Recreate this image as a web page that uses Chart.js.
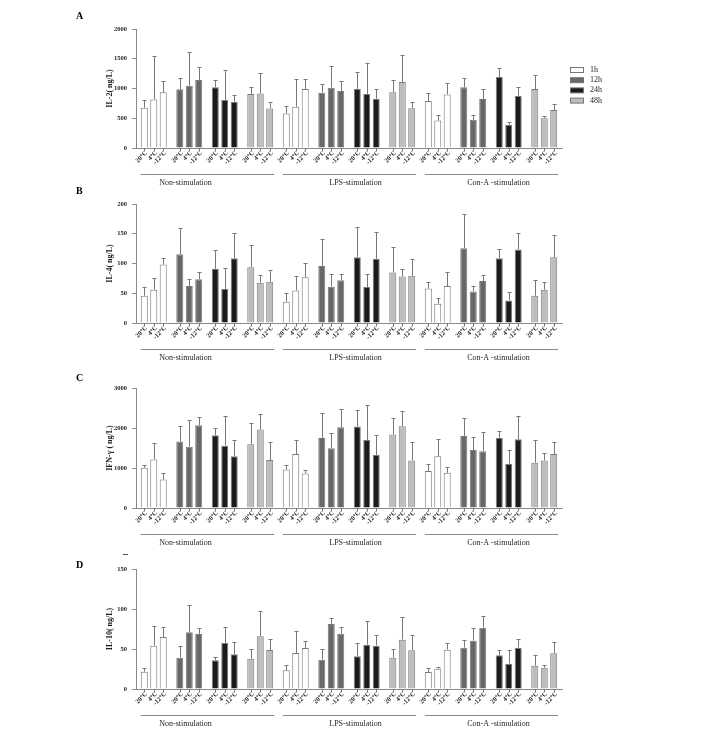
<!DOCTYPE html>
<html>
<head>
<meta charset="utf-8">
<script src="https://cdn.jsdelivr.net/npm/chart.js@4.4.1/dist/chart.umd.min.js"></script>
<style>
  html, body { margin: 0; padding: 0; background: #fff; }
  #wrap { position: relative; width: 708px; height: 731px; overflow: hidden; }
  canvas { position: absolute; left: 0; }
</style>
</head>
<body>
<div id="wrap">
  <canvas id="chartA" width="708" height="186" style="top:0px"></canvas>
  <canvas id="chartB" width="708" height="178" style="top:186px"></canvas>
  <canvas id="chartC" width="708" height="186" style="top:364px"></canvas>
  <canvas id="chartD" width="708" height="187" style="top:544px"></canvas>
</div>
<script>
// categories
const temps = ['20°C', '4°C', '-12°C'];
const timePoints = ['1h', '12h', '24h', '48h'];
const stimulations = ['Non-stimulation', 'LPS-stimulation', 'Con-A -stimulation'];
const timeColors = ['#ffffff', '#686868', '#1b1b1b', '#bdbdbd'];

// values, order: stimulation > time point > temperature (20, 4, -12)
const il2Mean = [676, 817, 935, 986, 1048, 1144, 1020, 806, 777, 907, 918, 665,
                 580, 693, 992, 930, 1014, 958, 997, 907, 828, 935, 1110, 670,
                 789, 462, 901, 1020, 473, 822, 1194, 389, 879, 992, 501, 637];
const il2Sd = [130, 721, 197, 186, 563, 225, 124, 501, 113, 113, 338, 101,
               130, 462, 169, 152, 372, 174, 282, 518, 158, 203, 445, 96,
               129, 101, 186, 157, 90, 164, 158, 45, 141, 231, 45, 107];

const il4Mean = [45.8, 55.9, 98.3, 115.6, 62, 73.7, 91, 57, 108.9, 93.9, 67.6, 69.3,
                 35.8, 54.7, 77, 96, 61, 72, 110.6, 60.3, 107.8, 84.9, 78.2, 79.3,
                 58.1, 32.4, 62, 125.7, 53.1, 70.4, 108.9, 38, 123.5, 45.8, 55.9, 110.6];
const il4Sd = [14, 19.5, 10.6, 43.6, 11.7, 11.2, 31.3, 35.7, 41.9, 37.4, 12.8, 19.5,
               14.5, 23.5, 23.6, 45.9, 21.1, 9.6, 51.4, 22.4, 45.8, 42.5, 12.3, 28,
               10.1, 10.1, 23.5, 57.5, 8.9, 9.5, 15.1, 14, 27.3, 26.3, 12.8, 36.9];

const ifnMean = [1006, 1215, 712, 1660, 1534, 2070, 1819, 1559, 1291, 1593, 1961, 1199,
                 964, 1350, 863, 1752, 1492, 2020, 2037, 1702, 1324, 1836, 2045, 1190,
                 922, 1291, 880, 1802, 1450, 1417, 1752, 1106, 1718, 1132, 1190, 1350];
const ifnSd = [67, 411, 168, 394, 670, 202, 176, 746, 402, 528, 386, 444,
               109, 352, 76, 620, 377, 461, 402, 880, 512, 410, 377, 453,
               168, 427, 151, 444, 319, 477, 184, 336, 570, 561, 193, 293];

const il10Mean = [21.7, 54.2, 65, 39.2, 70.8, 68.8, 35.8, 57.5, 43.3, 37.9, 65.8, 48.8,
                  23.3, 45, 51.3, 36.7, 81.3, 69.2, 40.8, 55.4, 54.2, 39.2, 61.7, 48.3,
                  21.3, 25.4, 49.2, 51.7, 60.4, 76.7, 42.1, 31.7, 51.7, 29.2, 26.7, 44.6];
const il10Sd = [5, 25, 12.5, 14.6, 34.6, 7.5, 4.2, 20, 15.5, 12.1, 32.1, 13.7,
                6.3, 27.5, 8.3, 13.3, 7.9, 8.3, 17.1, 29.6, 13.3, 10.8, 28.3, 19.2,
                5, 2.1, 8.3, 10, 15.9, 14.6, 6.7, 17.1, 10.8, 13.3, 3.3, 14.6];

const panels = [
  { id: 'chartA', letter: 'A', title: 'IL-2( ng/L)', mean: il2Mean, sd: il2Sd, max: 2000, step: 500, plotTop: 29, plotBottom: 148, letterY: 19, legend: true },
  { id: 'chartB', letter: 'B', title: 'IL-4( ng/L)', mean: il4Mean, sd: il4Sd, max: 200, step: 50, plotTop: 18, plotBottom: 137, letterY: 8 },
  { id: 'chartC', letter: 'C', title: 'IFN-γ ( ng/L)', mean: ifnMean, sd: ifnSd, max: 3000, step: 1000, plotTop: 24, plotBottom: 144, letterY: 17 },
  { id: 'chartD', letter: 'D', title: 'IL-10( ng/L)', mean: il10Mean, sd: il10Sd, max: 150, step: 50, plotTop: 25, plotBottom: 145, letterY: 24, dash: true }
];

const serif = 'Liberation Serif, Times New Roman, serif';
const axisGray = '#8a8a8a';
const textColor = '#1e1e1e';

const pick = (arr, t) => arr.filter((v, i) => i % 3 === t);

// error bars, per-bar temperature labels, group brackets, legend
const makeDecor = (p) => ({
  id: 'decor',
  afterDatasetsDraw(chart) {
    const ctx = chart.ctx;
    const y = chart.scales.y;
    const zero = y.getPixelForValue(0);
    ctx.save();
    ctx.strokeStyle = '#777';
    ctx.lineWidth = 1;
    chart.data.datasets.forEach((ds, di) => {
      const meta = chart.getDatasetMeta(di);
      const sds = pick(p.sd, di);
      meta.data.forEach((bar, i) => {
        const x = Math.round(bar.x) + 0.5;
        const top = Math.round(y.getPixelForValue(ds.data[i] + sds[i])) + 0.5;
        ctx.beginPath();
        ctx.moveTo(x, bar.y);
        ctx.lineTo(x, top);
        ctx.moveTo(x - 2, top);
        ctx.lineTo(x + 2, top);
        // small tick under each bar
        ctx.moveTo(x, zero);
        ctx.lineTo(x, zero + 3);
        ctx.stroke();

        ctx.save();
        ctx.translate(x + 2, zero + 4);
        ctx.rotate(-Math.PI / 4);
        ctx.fillStyle = textColor;
        ctx.font = 'bold 6.5px ' + serif;
        ctx.textAlign = 'right';
        ctx.textBaseline = 'middle';
        ctx.fillText(temps[di], 0, 0);
        ctx.restore();
      });
    });

    // stimulation brackets
    const first = chart.getDatasetMeta(0).data;
    const last = chart.getDatasetMeta(2).data;
    const labelShift = [-22, 6, 7];
    stimulations.forEach((s, si) => {
      const b0 = first[si * 4];
      const b1 = last[si * 4 + 3];
      const x0 = b0.x - b0.width / 2;
      const x1 = b1.x + b1.width / 2 + 1;
      ctx.strokeStyle = axisGray;
      ctx.beginPath();
      ctx.moveTo(x0, zero + 26.5);
      ctx.lineTo(x1, zero + 26.5);
      ctx.stroke();
      ctx.fillStyle = textColor;
      ctx.font = '8px ' + serif;
      ctx.textAlign = 'center';
      ctx.textBaseline = 'middle';
      ctx.fillText(s, (x0 + x1) / 2 + labelShift[si], zero + 34.5);
    });

    // panel letter
    ctx.fillStyle = '#000';
    ctx.font = 'bold 10px ' + serif;
    ctx.textAlign = 'left';
    ctx.textBaseline = 'alphabetic';
    ctx.fillText(p.letter, 76, p.letterY);

    if (p.dash) {
      ctx.strokeStyle = '#555';
      ctx.beginPath();
      ctx.moveTo(123, 10.5);
      ctx.lineTo(128, 10.5);
      ctx.stroke();
    }

    if (p.legend) {
      timePoints.forEach((t, ti) => {
        const cy = 70 + ti * 10.2;
        ctx.fillStyle = timeColors[ti];
        ctx.fillRect(570.5, cy - 2.5, 13, 5);
        ctx.strokeStyle = '#777';
        ctx.strokeRect(570.5, cy - 2.5, 13, 5);
        ctx.fillStyle = textColor;
        ctx.font = '8px ' + serif;
        ctx.textAlign = 'left';
        ctx.textBaseline = 'middle';
        ctx.fillText(t, 590, cy);
      });
    }
    ctx.restore();
  }
});

const makeChart = (p) => {
  const canvas = document.getElementById(p.id);
  const H = canvas.height;
  const labels = [];
  stimulations.forEach(s => timePoints.forEach(t => labels.push(s + ' ' + t)));
  const barColors = labels.map((l, i) => timeColors[i % 4]);

  return new Chart(canvas, {
    type: 'bar',
    data: {
      labels: labels,
      datasets: temps.map((t, ti) => ({
        label: t,
        data: pick(p.mean, ti),
        backgroundColor: barColors,
        borderColor: '#7a7a7a',
        borderWidth: 1,
        categoryPercentage: 0.8,
        barPercentage: 0.74
      }))
    },
    options: {
      responsive: false,
      animation: false,
      layout: { padding: { left: 0, right: 146, top: p.plotTop, bottom: H - p.plotBottom } },
      plugins: { legend: { display: false }, tooltip: { enabled: false } },
      scales: {
        x: {
          type: 'category',
          offset: true,
          grid: { display: false },
          ticks: { display: false },
          border: { display: true, color: axisGray },
          afterFit: s => { s.height = 0; }
        },
        y: {
          min: 0,
          max: p.max,
          ticks: {
            stepSize: p.step,
            padding: 5,
            color: textColor,
            font: { family: serif, weight: 'bold', size: 6.5 },
            callback: v => String(v)
          },
          grid: { drawOnChartArea: false, drawTicks: true, tickLength: 4, color: axisGray },
          border: { color: axisGray },
          title: {
            display: true,
            text: p.title,
            color: textColor,
            font: { family: serif, weight: 'bold', size: 8 },
            padding: { top: 105, bottom: 0 }
          },
          afterFit: s => { s.width = 136; }
        }
      }
    },
    plugins: [makeDecor(p)]
  });
};

panels.forEach(makeChart);
</script>
</body>
</html>
